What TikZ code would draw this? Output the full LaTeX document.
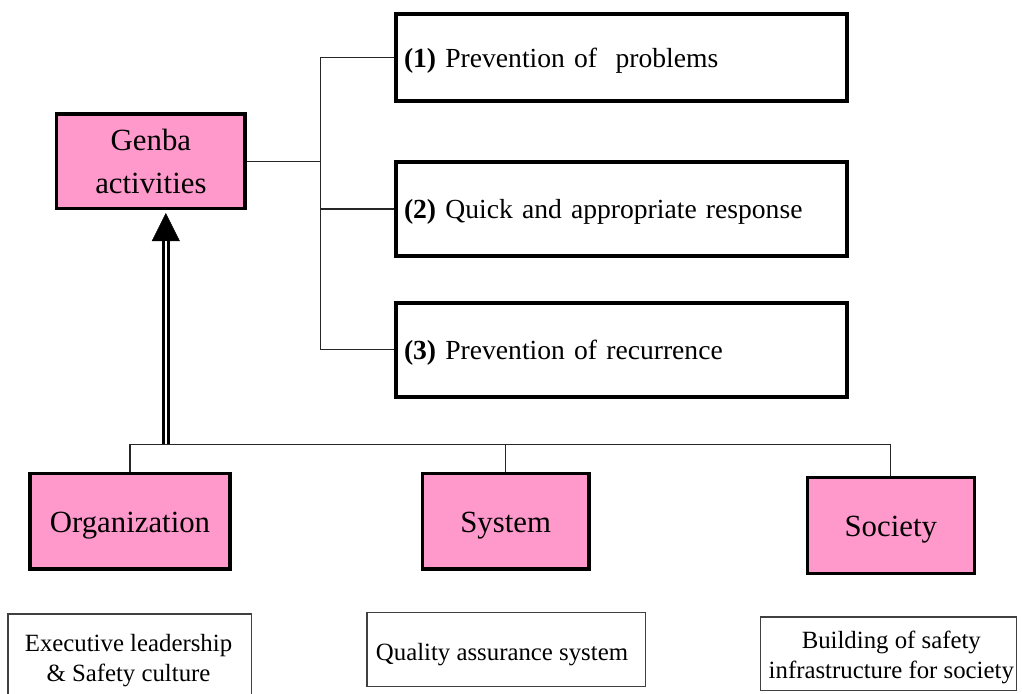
\documentclass[tikz,border=0pt]{standalone}
\usepackage{fontspec}
\setmainfont{Liberation Serif}
\usetikzlibrary{arrows.meta}
\definecolor{genbapink}{HTML}{FF99CC}
\begin{document}
\begin{tikzpicture}[x=1pt, y=-1pt,
  pinkbox/.style={draw=black, line width=3.4pt, fill=genbapink, inner sep=0pt,
    align=center, font=\fontsize{30.8}{43}\selectfont},
  oneline/.style={text height=22.5pt, text depth=0.5pt},
  aimbox/.style={draw=black, line width=4pt, anchor=west, inner xsep=8pt, inner ysep=0pt,
    minimum width=450.7pt, text width=434.7pt, align=left,
    text height=20pt, text depth=1pt, font=\fontsize{27.6}{33}\selectfont},
  noteframe/.style={draw=black!75, line width=1.2pt, inner sep=0pt},
  notetext/.style={inner sep=0pt, align=center, font=\fontsize{24.8}{30}\selectfont},
  wire/.style={draw=black!85, line width=1.2pt},
  shaft/.style={draw=black, line width=3pt, double=white, double distance=1.6pt},
]
\useasboundingbox (0,0) rectangle (1022,693);

% central box and the three aims
\node[pinkbox, minimum width=188.3pt, minimum height=94.3pt] (genba) at (150.9,161.2) {Genba\\activities};
\node[aimbox, minimum height=87.6pt] (aim1) at (394,57.5) {\textbf{(1)} Prevention of\ \ problems};
\node[aimbox, minimum height=93.7pt] (aim2) at (394,208.9) {\textbf{(2)} Quick and appropriate response};
\node[aimbox, minimum height=93.7pt] (aim3) at (394,349.8) {\textbf{(3)} Prevention of recurrence};

% the three pillars
\node[pinkbox, oneline, minimum width=200pt, minimum height=95.6pt] (org) at (130,521.2) {Organization};
\node[pinkbox, oneline, minimum width=166.6pt, minimum height=95.6pt] (sys) at (505.7,521.2) {System};
\node[pinkbox, oneline, minimum width=166.9pt, minimum height=95.9pt] (soc) at (890.8,525.4) {Society};

% notes under the pillars
\node[noteframe, anchor=north, minimum width=243.4pt, minimum height=100pt] (leadframe) at (129.7,613.3) {};
\node[notetext] (lead) at (128.5,661) {Executive leadership\\\& Safety culture};
\node[noteframe, minimum width=278.6pt, minimum height=74pt] (qaframe) at (506.3,649.4) {};
\node[notetext] (qa) at (502,655) {Quality assurance system};
\node[noteframe, minimum width=256.3pt, minimum height=73.4pt] (infraframe) at (888.5,653.7) {};
\node[notetext] (infra) at (891.3,657.5) {Building of safety\\infrastructure for society};

% junction points of the connectors
\coordinate (trunk) at (320.3,0);
\coordinate (bus) at (0,444.3);
\coordinate (feed) at (165.8,444.3);

% tree from the central box to the aims
\draw[wire] (genba.east) -- (genba.east -| trunk);
\draw[wire] (aim1.west) -- (aim1.west -| trunk) -- (aim3.west -| trunk) -- (aim3.west);
\draw[wire] (aim2.west) -- (aim2.west -| trunk);

% bus joining the pillars
\draw[wire] (org.north) -- (org.north |- bus) -- (soc.north |- bus) -- (soc.north);
\draw[wire] (sys.north) -- (sys.north |- bus);

% double-lined arrow up to the central box
\draw[line width=0.4pt, shorten >=3pt, -{Triangle[length=28pt, width=28pt]}] (feed) -- (feed |- genba.south);
\draw[shaft, shorten >=31pt] (feed) -- (feed |- genba.south);
\end{tikzpicture}
\end{document}
